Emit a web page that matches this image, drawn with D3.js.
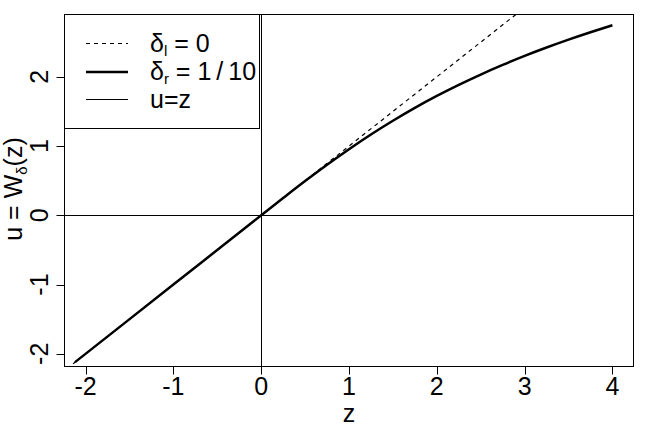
<!DOCTYPE html>
<html>
<head>
<meta charset="utf-8">
<script src="https://cdn.jsdelivr.net/npm/d3@7"></script>
<style>
  body { margin: 0; background: #fff; }
  svg { font-family: "Liberation Sans", Arial, sans-serif; }
</style>
</head>
<body>
<svg id="chart" width="648" height="432"></svg>
<script>
// values
const zTicks = [-2, -1, 0, 1, 2, 3, 4];
const uTicks = [-2, -1, 0, 1, 2];
const curveZ = [-2.12, -1, 0, 0.25, 0.5, 0.75, 1, 1.25, 1.5, 1.75, 2, 2.25, 2.5, 2.75, 3, 3.25, 3.5, 3.75, 4];
const curveU = [-2.12, -1, 0, 0.249, 0.494, 0.730, 0.955, 1.168, 1.366, 1.552, 1.724, 1.884, 2.033, 2.172, 2.302, 2.423, 2.537, 2.644, 2.745];
const identZ = [-2.5, 4.5];
const identU = [-2.5, 4.5];

let svg = d3.select("#chart");
let pLeft = 64.5, pRight = 633.5, pTop = 14.5, pBottom = 366.5;
let fs = 25;

let x = d3.scaleLinear().domain([-2.24, 4.24]).range([pLeft, pRight]);
let y = d3.scaleLinear().domain([-2.183, 2.90]).range([pBottom, pTop]);

svg.append("clipPath").attr("id", "plotclip")
    .append("rect")
    .attr("x", pLeft).attr("y", pTop)
    .attr("width", pRight - pLeft).attr("height", pBottom - pTop);

let plot = svg.append("g").attr("clip-path", "url(#plotclip)");

let line = d3.line().x(d => x(d[0])).y(d => y(d[1]));

// reference lines at u=0 and z=0
plot.append("line")
    .attr("x1", pLeft).attr("x2", pRight)
    .attr("y1", Math.round(y(0)) + 0.5).attr("y2", Math.round(y(0)) + 0.5)
    .attr("stroke", "#000").attr("stroke-width", 1);
plot.append("line")
    .attr("x1", Math.round(x(0)) + 0.5).attr("x2", Math.round(x(0)) + 0.5)
    .attr("y1", pTop).attr("y2", pBottom)
    .attr("stroke", "#000").attr("stroke-width", 1);

// delta_l = 0 : dashed
plot.append("path")
    .datum(d3.zip(identZ, identU))
    .attr("d", line)
    .attr("fill", "none")
    .attr("stroke", "#000")
    .attr("stroke-width", 1.2)
    .attr("stroke-dasharray", "4,4");

// delta_r = 1/10 : thick solid
plot.append("path")
    .datum(d3.zip(curveZ, curveU))
    .attr("d", d3.line().curve(d3.curveMonotoneX).x(d => x(d[0])).y(d => y(d[1])))
    .attr("fill", "none")
    .attr("stroke", "#000")
    .attr("stroke-width", 2.5);

// box
svg.append("rect")
    .attr("x", pLeft).attr("y", pTop)
    .attr("width", pRight - pLeft).attr("height", pBottom - pTop)
    .attr("fill", "none").attr("stroke", "#000").attr("stroke-width", 1);

// x axis
let xAxis = svg.append("g");
xAxis.append("line")
    .attr("x1", x(zTicks[0])).attr("x2", x(zTicks[zTicks.length - 1]))
    .attr("y1", pBottom).attr("y2", pBottom)
    .attr("stroke", "#000");
xAxis.selectAll("line.tick").data(zTicks).enter()
    .append("line").attr("class", "tick")
    .attr("x1", d => Math.round(x(d)) + 0.5).attr("x2", d => Math.round(x(d)) + 0.5)
    .attr("y1", pBottom).attr("y2", pBottom + 8)
    .attr("stroke", "#000");
xAxis.selectAll("text").data(zTicks).enter()
    .append("text")
    .attr("x", d => x(d)).attr("y", 395)
    .attr("text-anchor", "middle")
    .attr("font-size", fs)
    .text(d => d);

// y axis
let yAxis = svg.append("g");
yAxis.append("line")
    .attr("x1", pLeft).attr("x2", pLeft)
    .attr("y1", y(uTicks[0])).attr("y2", y(uTicks[uTicks.length - 1]))
    .attr("stroke", "#000");
yAxis.selectAll("line.tick").data(uTicks).enter()
    .append("line").attr("class", "tick")
    .attr("x1", pLeft - 8).attr("x2", pLeft)
    .attr("y1", d => Math.round(y(d)) + 0.5).attr("y2", d => Math.round(y(d)) + 0.5)
    .attr("stroke", "#000");
yAxis.selectAll("text").data(uTicks).enter()
    .append("text")
    .attr("transform", d => `translate(48,${y(d)}) rotate(-90)`)
    .attr("text-anchor", "middle")
    .attr("font-size", fs)
    .text(d => d);

// axis titles
svg.append("text")
    .attr("x", (pLeft + pRight) / 2).attr("y", 422)
    .attr("text-anchor", "middle")
    .attr("font-size", fs)
    .text("z");

let ylab = svg.append("text")
    .attr("transform", `translate(22,189) rotate(-90)`)
    .attr("text-anchor", "middle")
    .attr("font-size", fs);
ylab.append("tspan").text("u = W");
ylab.append("tspan").attr("font-size", 15).attr("dy", 5).text("δ");
ylab.append("tspan").attr("dy", -5).text("(z)");

// legend
let legend = svg.append("g");
legend.append("rect")
    .attr("x", pLeft).attr("y", pTop)
    .attr("width", 195).attr("height", 114)
    .attr("fill", "#fff").attr("stroke", "#000");

let legItems = [
    { y: 43.5, width: 1.2, dash: "4,4", main: "δ", sub: "l", rest: " = 0" },
    { y: 72, width: 2.5, dash: null, main: "δ", sub: "r", rest: " = 1\u2009/\u200910" },
    { y: 99.5, width: 1, dash: null, main: "u=z", sub: null, rest: "" }
];
legItems.forEach(it => {
    legend.append("line")
        .attr("x1", 86).attr("x2", 128)
        .attr("y1", it.y).attr("y2", it.y)
        .attr("stroke", "#000")
        .attr("stroke-width", it.width)
        .attr("stroke-dasharray", it.dash);
    let t = legend.append("text")
        .attr("x", 150).attr("y", it.y + 8)
        .attr("font-size", fs);
    t.append("tspan").text(it.main);
    if (it.sub) {
        t.append("tspan").attr("font-size", 15).attr("dy", 4).text(it.sub);
        t.append("tspan").attr("dy", -4).text(it.rest);
    }
});
</script>
</body>
</html>
